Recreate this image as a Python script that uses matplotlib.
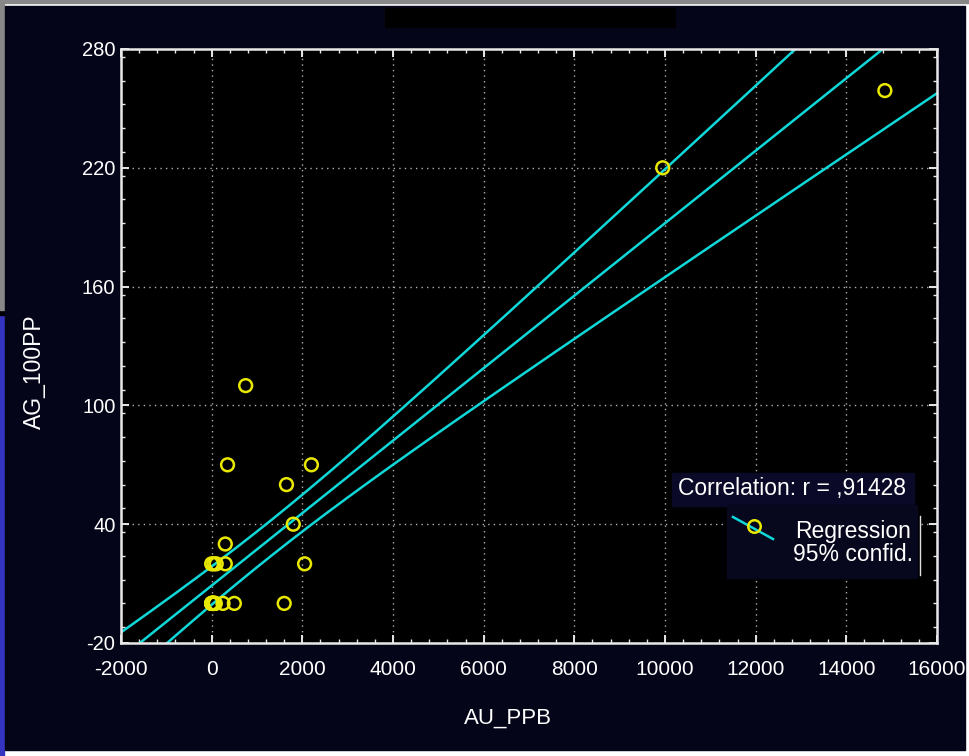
import matplotlib.pyplot as plt
import numpy as np
from matplotlib.patches import Rectangle
from matplotlib.lines import Line2D
from matplotlib.ticker import MultipleLocator

plt.rcParams['axes.unicode_minus'] = False

# data (many points overlap near the origin)
au_ppb = [9950, 14850, 750, 350, 2200, 1650, 1800, 300, 300, 2050,
          0, 50, 100,
          0, 30, 80, 250, 500, 1600,
          0, 0, 10, 10, 20, 20, 30, 40, 40, 50, 60, 60]
ag_100pp = [220, 259, 110, 70, 70, 60, 40, 30, 20, 20,
            20, 20, 20,
            0, 0, 0, 0, 0, 0,
            0, 0, 0, 0, 0, 0, 0, 0, 0, 0, 0, 0]
x_ticks = [-2000, 0, 2000, 4000, 6000, 8000, 10000, 12000, 14000, 16000]
y_ticks = [-20, 40, 100, 160, 220, 280]
corr_label = 'Correlation: r = ,91428'

NAVY = '#05051a'
CYAN = '#10d8d8'
YELLOW = '#e8e800'
FONT = ['Liberation Sans', 'DejaVu Sans']

x = np.array(au_ppb, dtype=float)
y = np.array(ag_100pp, dtype=float)

# linear fit + 95% confidence band for the regression line
n = len(x)
slope, intercept = np.polyfit(x, y, 1)
resid = y - (slope * x + intercept)
s = np.sqrt(np.sum(resid ** 2) / (n - 2))
sxx = np.sum((x - x.mean()) ** 2)
t_val = 2.045  # t(0.975, 29)
xs = np.linspace(-2000, 16000, 400)
ys = slope * xs + intercept
hw = t_val * s * np.sqrt(1.0 / n + (xs - x.mean()) ** 2 / sxx)

fig = plt.figure(figsize=(9.7, 7.56), dpi=100, facecolor='white')

# window background pieces
bg = dict(transform=fig.transFigure, zorder=-2)
fig.patches.append(Rectangle((0, 0.996), 1, 0.004, color='#888888', **bg))
fig.patches.append(Rectangle((0, 0), 0.004, 0.583, color='#3434c0', **bg))
fig.patches.append(Rectangle((0, 0.583), 0.004, 0.007, color='black', **bg))
fig.patches.append(Rectangle((0, 0.59), 0.004, 0.41, color='#888888', **bg))
fig.patches.append(Rectangle((5 / 970, 6 / 756), 960 / 970, 744 / 756, color=NAVY, **bg))
# blacked-out title
fig.patches.append(Rectangle((385 / 970, 1 - 27 / 756), 290 / 970, 19 / 756,
                             transform=fig.transFigure, color='black', zorder=-1))

ax = fig.add_axes([121 / 970, 1 - 643 / 756, 816 / 970, 594 / 756])
ax.set_zorder(0)
ax.set_facecolor('black')

ax.plot(xs, ys, color=CYAN, lw=1.8)
ax.plot(xs, ys + hw, color=CYAN, lw=1.8)
ax.plot(xs, ys - hw, color=CYAN, lw=1.8)
ax.scatter(x, y, s=85, facecolors='none', edgecolors=YELLOW, linewidths=1.8, zorder=3)

ax.set_xlim(-2000, 16000)
ax.set_ylim(-20, 280)
ax.set_xticks(x_ticks)
ax.set_yticks(y_ticks)
ax.xaxis.set_minor_locator(MultipleLocator(400))
ax.yaxis.set_minor_locator(MultipleLocator(12))
ax.grid(True, which='major', color='#b0b0b0', linestyle=(0, (1, 3)), linewidth=1.0)

for side in ax.spines.values():
    side.set_color('#e8e8e8')
    side.set_linewidth(1.8)
ax.tick_params(which='both', direction='in', top=True, right=True, colors='#e8e8e8')
ax.tick_params(which='major', length=6, width=1.4)
ax.tick_params(which='minor', length=3, width=1.0)
ax.tick_params(axis='x', which='major', labelsize=15, labelcolor='white', pad=12)
ax.tick_params(axis='y', which='major', labelsize=14.5, labelcolor='white', pad=4)
for lab in ax.get_xticklabels() + ax.get_yticklabels():
    lab.set_family(FONT)

ax.set_xlabel('AU_PPB', color='white', fontsize=16, family=FONT)
ax.xaxis.set_label_coords((508 - 121) / 816, -(708 - 643) / 594)
ax.set_ylabel('AG_100PP', color='white', fontsize=16.5, family=FONT)
ax.yaxis.set_label_coords(-(121 - 46) / 816, (643 - 372) / 594)

# legend block
fig.patches.append(Rectangle((672 / 970, 1 - 506 / 756), 242 / 970, 33 / 756,
                             transform=fig.transFigure, color='#0a0a28', zorder=2))
fig.patches.append(Rectangle((727 / 970, 1 - 578 / 756), 190 / 970, 73 / 756,
                             transform=fig.transFigure, color='#07071e', zorder=2))
fig.text(792 / 970, 1 - 489 / 756, corr_label, color='white', fontsize=16.5,
         ha='center', va='center', family=FONT, zorder=3)
fig.text(853 / 970, 1 - 543 / 756, 'Regression\n95% confid.', color='white',
         fontsize=16.5, ha='center', va='center', linespacing=1.05,
         family=FONT, zorder=3)
fig.add_artist(Line2D([733 / 970, 773 / 970], [1 - 517 / 756, 1 - 539 / 756],
                      color=CYAN, lw=1.8, zorder=3))
fig.add_artist(Line2D([754 / 970], [1 - 526 / 756], marker='o', markersize=9,
                      markerfacecolor='none', markeredgecolor=YELLOW,
                      markeredgewidth=1.8, zorder=4))
fig.add_artist(Line2D([920 / 970, 920 / 970], [1 - 516 / 756, 1 - 575 / 756],
                      color='#e0e0e0', lw=1.0, zorder=3))

plt.savefig('out.png', dpi=100, facecolor='white')
